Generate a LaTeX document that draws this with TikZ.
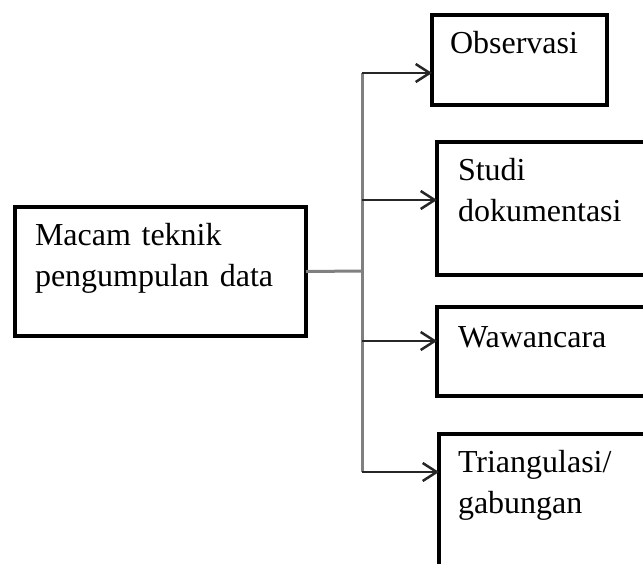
\documentclass[tikz,border=0pt]{standalone}
\usepackage{fontspec}
\setmainfont{Liberation Serif}
\usetikzlibrary{arrows.meta,positioning}

\begin{document}
\begin{tikzpicture}[
    x=1pt, y=-1pt,
    box/.style={rectangle, draw=black, line width=4.5pt, outer sep=0pt, anchor=north west, align=left, inner xsep=20pt, inner ysep=16pt, text height=22pt, font={\fontsize{32}{41}\selectfont}},
    arrow/.style={-{Straight Barb[length=14pt, width=18pt]}, line width=2.5pt, draw=black!85},
    line/.style={line width=3pt, draw=black!50}
]
    \clip (0,0) rectangle (643,563);
    \node [box, text width=251pt, text depth=75pt] (macam) at (15,207) {Macam teknik\\pengumpulan data};
    \node [box, inner xsep=18pt, text width=139pt, text depth=36pt] (obs) at (432,15) {Observasi};
    \node [box, inner xsep=21pt, text width=181pt, text depth=79pt] (studi) at (437,142) {Studi\\dokumentasi};
    \node [box, inner xsep=21pt, text width=181pt, text height=24pt, text depth=33pt] (wawan) at (437,307) {Wawancara};
    \node [box, inner xsep=19pt, text width=181pt, text depth=150pt] (trian) at (439,434) {Triangulasi/\\gabungan};

    % cabang
    \coordinate (cabang) at (362,271);
    \coordinate (atas) at (362,73);
    \coordinate (c2) at (362,200);
    \coordinate (c3) at (362,341);
    \coordinate (bawah) at (362,472);

    \draw [line] (macam.east) -- (cabang);
    \draw [line] (atas) -- (bawah);
    \draw [arrow] (atas) -- (atas -| obs.west);
    \draw [arrow] (c2) -- (c2 -| studi.west);
    \draw [arrow] (c3) -- (c3 -| wawan.west);
    \draw [arrow] (bawah) -- (bawah -| trian.west);
\end{tikzpicture}
\end{document}
